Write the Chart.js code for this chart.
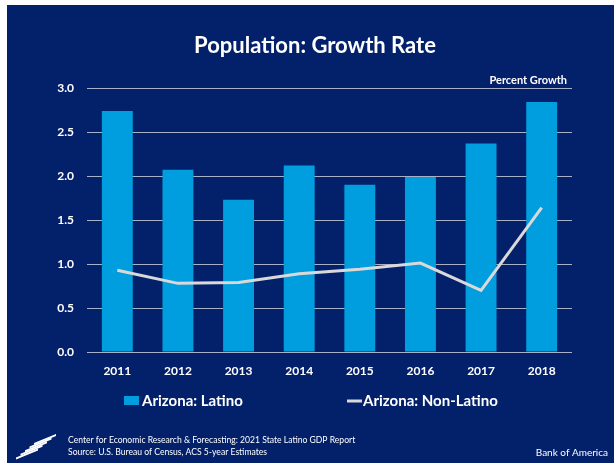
<!DOCTYPE html>
<html>
<head>
<meta charset="utf-8">
<script src="https://cdn.jsdelivr.net/npm/chart.js@4"></script>
<style>
html, body { margin: 0; padding: 0; background: #fff; }
#contenedor { width: 614px; height: 463px; }
</style>
</head>
<body>
<div id="contenedor"><canvas id="myChart" width="614" height="463"></canvas></div>
<script>
// datos
const anios = ['2011', '2012', '2013', '2014', '2015', '2016', '2017', '2018'];
const latino = [2.74, 2.07, 1.73, 2.12, 1.90, 1.99, 2.37, 2.84];
const noLatino = [0.93, 0.78, 0.79, 0.89, 0.94, 1.01, 0.70, 1.64];
const nombres = ['Arizona: Latino', 'Arizona: Non-Latino'];

const azulFondo = '#03206a';
const azulBarra = '#009ddf';
const grisLinea = '#d9d9d9';
const fuente = 'Lato, "Open Sans", sans-serif';

// fondo, titulo, leyenda y pie
const decorado = {
  id: 'decorado',
  beforeDraw(chart) {
    const ctx = chart.ctx;
    ctx.save();
    ctx.fillStyle = '#fff';
    ctx.fillRect(0, 0, chart.width, chart.height);
    ctx.fillStyle = azulFondo;
    ctx.fillRect(7, 5, chart.width - 7, chart.height - 5);
    ctx.restore();
  },
  afterDraw(chart) {
    const ctx = chart.ctx;
    const ds = chart.data.datasets;
    ctx.save();
    ctx.fillStyle = '#fff';
    ctx.textBaseline = 'middle';

    ctx.font = 'bold 22px ' + fuente;
    ctx.textAlign = 'center';
    ctx.fillText('Population: Growth Rate', 315, 46);

    ctx.font = 'bold 11px ' + fuente;
    ctx.textAlign = 'right';
    ctx.fillText('Percent Growth', 567, 80);

    // leyenda
    ctx.font = 'bold 15px ' + fuente;
    ctx.textAlign = 'left';
    ctx.fillStyle = ds[1].backgroundColor;
    ctx.fillRect(124, 396, 15, 9);
    ctx.fillStyle = '#fff';
    ctx.fillText(ds[1].label, 142, 401);
    ctx.strokeStyle = ds[0].borderColor;
    ctx.lineWidth = 3;
    ctx.beginPath();
    ctx.moveTo(347, 401);
    ctx.lineTo(362, 401);
    ctx.stroke();
    ctx.fillText(ds[0].label, 363, 401);

    // pie
    ctx.font = '8.6px ' + fuente;
    ctx.fillText('Center for Economic Research & Forecasting: 2021 State Latino GDP Report', 68, 440);
    ctx.fillText('Source: U.S. Bureau of Census, ACS 5-year Estimates', 68, 452);
    ctx.font = '10px ' + fuente;
    ctx.textAlign = 'right';
    ctx.fillText('Bank of America', 608, 453);

    // logo aproximado (franjas inclinadas)
    ctx.fillStyle = '#fff';
    for (let i = 0; i < 5; i++) {
      const x0 = 34 - i * 4.5;
      const y0 = 443 + i * 3.6;
      ctx.beginPath();
      ctx.moveTo(x0, y0);
      ctx.lineTo(x0 + 22, y0 - 9);
      ctx.lineTo(x0 + 22, y0 - 7);
      ctx.lineTo(x0, y0 + 2);
      ctx.closePath();
      ctx.fill();
    }
    ctx.restore();
  }
};

new Chart(document.getElementById('myChart'), {
  data: {
    labels: anios,
    datasets: [
      {
        type: 'line',
        label: nombres[1],
        data: noLatino,
        borderColor: grisLinea,
        borderWidth: 3,
        pointRadius: 0,
        tension: 0,
        order: 0
      },
      {
        type: 'bar',
        label: nombres[0],
        data: latino,
        backgroundColor: azulBarra,
        barPercentage: 0.51,
        categoryPercentage: 1,
        order: 1
      }
    ]
  },
  options: {
    responsive: false,
    animation: false,
    devicePixelRatio: 1,
    layout: { padding: { top: 88, right: 42, bottom: 81, left: 0 } },
    plugins: {
      legend: { display: false },
      tooltip: { enabled: false }
    },
    scales: {
      x: {
        grid: { display: false, drawTicks: false },
        border: { display: false },
        ticks: { color: '#fff', font: { family: fuente, size: 12, weight: 'bold' }, padding: 12 },
        afterFit(s) { s.height = 30; }
      },
      y: {
        min: 0,
        max: 3,
        border: { display: false },
        grid: { color: '#a9afc4', lineWidth: 1, drawTicks: false },
        ticks: {
          stepSize: 0.5,
          color: '#fff',
          font: { family: fuente, size: 12, weight: 'bold' },
          padding: 13,
          callback: v => v.toFixed(1)
        },
        afterFit(s) { s.width = 87; }
      }
    }
  },
  plugins: [decorado]
});
</script>
</body>
</html>
